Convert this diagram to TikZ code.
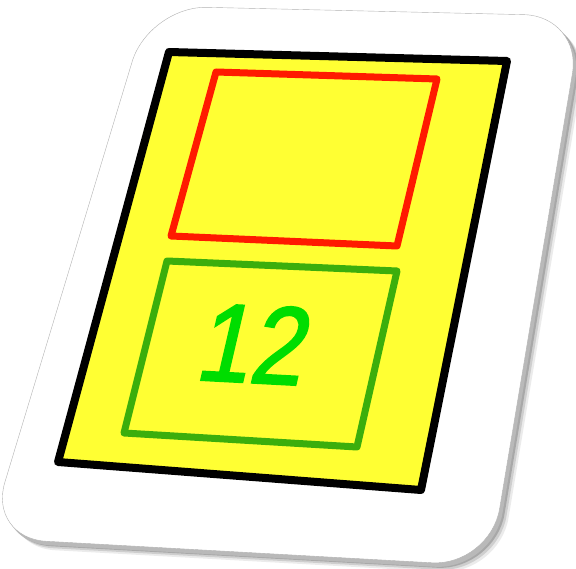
\documentclass[tikz,border=0pt]{standalone}
\usepackage{fontspec}
\setmainfont{Liberation Sans}
\newfontfamily\digitfont{Liberation Sans}[FakeBold=2]
\usepackage{tikz}
\usetikzlibrary{calc}
\definecolor{cardyellow}{HTML}{FFFF33}
\definecolor{boxred}{HTML}{FF1A00}
\definecolor{boxgreen}{HTML}{3BAE0C}
\definecolor{digitgreen}{HTML}{00DD00}
\tikzset{
  frame/.style={line width=#1, line join=round},
  cardedge/.style={rounded corners=58pt}
}

\begin{document}
\begin{tikzpicture}[x=1pt, y=-1pt]
\useasboundingbox[fill=white] (0,0) rectangle (576,569);
% Card corners
\coordinate (ctl) at (149,6);
\coordinate (ctr) at (582,16);
\coordinate (cbr) at (490,566);
\coordinate (cbl) at (-12,538);

% Shadow and thickness
\foreach \d/\o in {9/0.08, 7/0.12, 5/0.18} {
  \fill[black, opacity=\o, cardedge] ($(ctl)+(\d,\d)$) -- ($(ctr)+(\d,\d)$) -- ($(cbr)+(\d,\d)$) -- ($(cbl)+(\d,\d)$) -- cycle;
}
\fill[gray!55, cardedge] ($(ctl)+(3,4)$) -- ($(ctr)+(3,4)$) -- ($(cbr)+(3,4)$) -- ($(cbl)+(3,4)$) -- cycle;

% Card
\draw[gray!60, thin, fill=white, cardedge] (ctl) -- (ctr) -- (cbr) -- (cbl) -- cycle;

% Yellow panel
\draw[frame=8pt, fill=cardyellow] (169,52) -- (507,61) -- (421,490) -- (58,462) -- cycle;

% Upper box
\draw[frame=7pt, boxred] (216,72) -- (437,79) -- (397,246) -- (171,236) -- cycle;

% Lower box
\draw[frame=7pt, boxgreen] (167,261) -- (397,271) -- (357,447) -- (124,433) -- cycle;
\node[text=digitgreen, font=\digitfont\fontsize{110}{110}\selectfont, xslant=0.18, rotate=-3, xscale=0.88, inner sep=0pt] (num) at (256,344) {12};
\end{tikzpicture}
\end{document}
